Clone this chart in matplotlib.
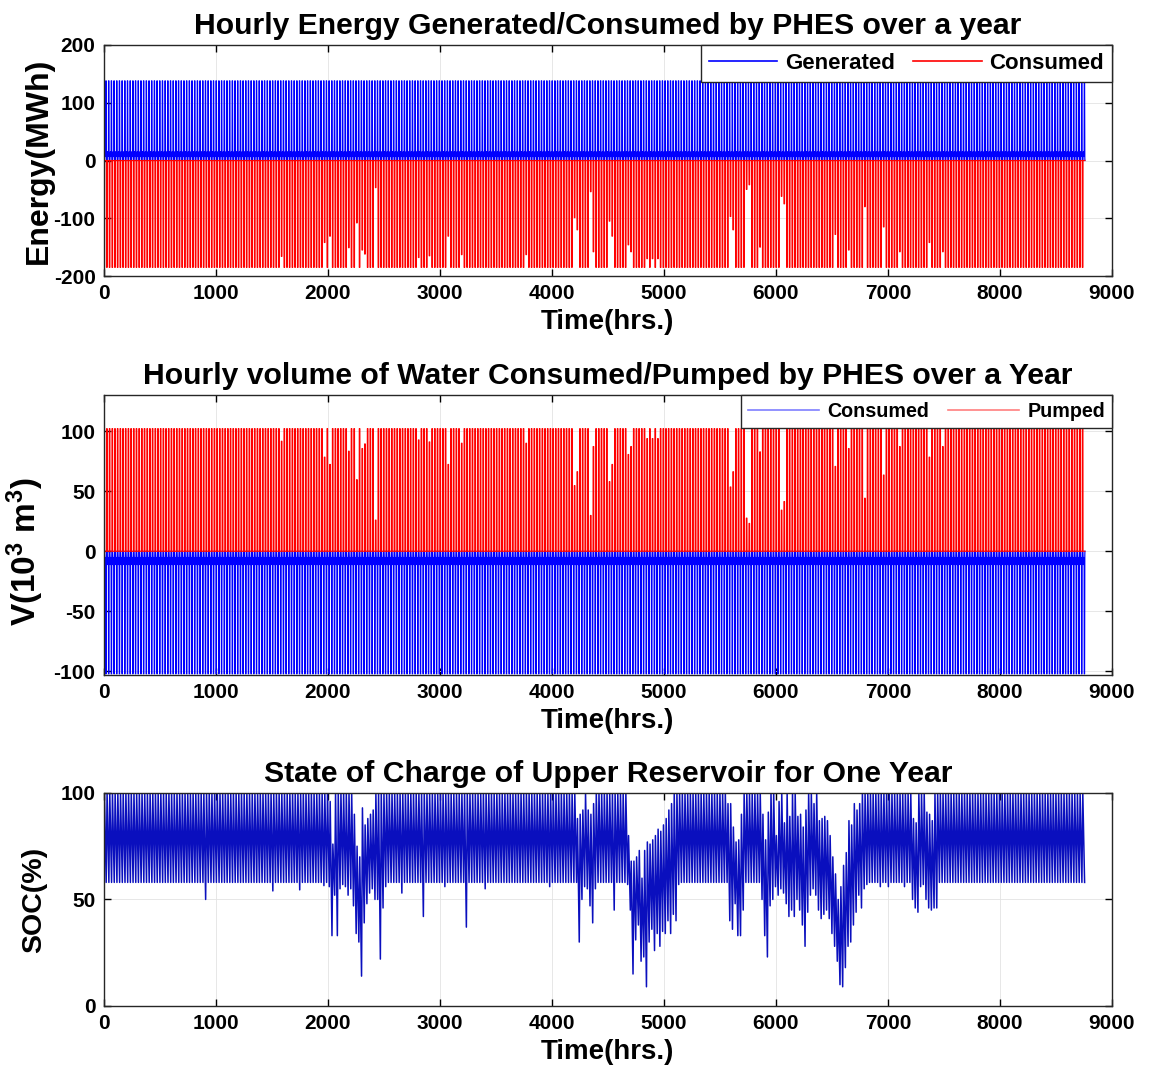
import numpy as np
import matplotlib.pyplot as plt

plt.rcParams['font.family'] = ['Liberation Sans', 'DejaVu Sans']
plt.rcParams['font.weight'] = 'bold'
plt.rcParams['axes.unicode_minus'] = False
plt.rcParams['mathtext.fontset'] = 'custom'
plt.rcParams['mathtext.rm'] = 'Liberation Sans:bold'
plt.rcParams['mathtext.it'] = 'Liberation Sans:bold'
plt.rcParams['mathtext.bf'] = 'Liberation Sans:bold'

# ---- data ----
n_days = 365

# typical day, hour by hour (MWh)
gen_day_mwh = [0, 0, 0, 0, 0, 0, 4, 9, 13, 15, 12, 9, 7, 10, 13, 15, 14, 138, 138, 138, 138, 12, 5, 0]
pump_day_mwh = [-185, -185, -185, -185, -185, -185, 0, 0, 0, 0, 0, 0, 0, 0, 0, 0, 0, 0, 0, 0, 0, 0, 0, 0]

# days where pumping did not reach full power (day, MWh)
partial_pump_day = [66, 82, 84, 91, 94, 96, 97, 101, 117, 121, 128, 133, 157, 175, 176, 181, 182,
                    188, 189, 195, 196, 202, 204, 206, 233, 234, 239, 240, 244, 252, 253, 272,
                    277, 283, 290, 296, 307, 312]
partial_pump_mwh = [-166, -142, -131, -151, -108, -155, -162, -47, -168, -165, -131, -163, -163,
                    -99, -120, -54, -158, -105, -131, -146, -158, -170, -170, -170, -97, -120,
                    -50, -42, -150, -62, -75, -128, -155, -80, -115, -158, -142, -158]

gen_full_mwh, gen_full_vol = 138, 102
pump_full_mwh, pump_full_vol = 185, 102

# SOC: usual daily swing
soc_peak_base = 100
soc_trough_base = 58

# single-day dips (hour, trough %)
dip_hour = [893, 1510, 1732, 1955, 2643, 2837, 3027, 3217, 3402, 3966, 4546, 4656, 5113,
            6912, 6984, 7128]
dip_soc = [50, 54, 54.5, 56.5, 53, 42, 56, 37, 55, 56, 45, 57, 57, 56, 56, 56]

# runs of disturbed days: first day, troughs, peaks
run_a_day = 83
run_a_trough = [56, 33, 52, 33, 55, 57, 56, 52, 55, 47, 34, 30, 14, 39, 48, 53, 55, 50, 50, 22, 46, 56]
run_a_peak = [100, 96, 76, 100, 100, 100, 100, 100, 100, 100, 90, 75, 70, 93, 85, 88, 90, 92, 100, 100, 100, 100]

run_f_day = 175
run_f_trough = [58, 30, 50, 56, 55, 47, 39, 55]
run_f_peak = [100, 88, 90, 92, 100, 92, 90, 95]

run_b_day = 195
run_b_trough = [45, 15, 31, 38, 21, 23, 9, 30, 36, 26, 34, 28, 35, 34, 40, 34, 43, 40]
run_b_peak = [80, 68, 68, 70, 73, 60, 73, 77, 76, 78, 80, 83, 82, 85, 88, 92, 95, 100]

run_c_day = 232
run_c_trough = [40, 36, 48, 33, 33, 45]
run_c_peak = [95, 95, 84, 77, 78, 90]

run_d_day = 244
run_d_trough = [50, 33, 23, 47, 50, 56, 52, 55, 53, 48, 42, 45, 42, 50, 45, 38, 28, 44, 52, 55,
                52, 45, 41, 43, 45, 41, 34, 28, 21, 10, 9, 18, 28, 30, 38, 44, 52, 46, 55, 57]
run_d_peak = [100, 90, 78, 91, 100, 100, 80, 96, 100, 86, 100, 89, 100, 100, 89, 90, 84, 92, 100, 100,
              95, 100, 87, 88, 89, 87, 80, 70, 62, 50, 56, 66, 72, 87, 85, 95, 92, 95, 100, 100]

run_e_day = 300
run_e_trough = [50, 46, 44, 56, 57, 50, 46, 45, 46, 46]
run_e_peak = [100, 88, 86, 100, 100, 100, 91, 90, 87, 100]

# ---- hourly series ----
hours = np.arange(n_days * 24)
gen = np.tile(gen_day_mwh, n_days).astype(float)
pump = np.tile(pump_day_mwh, n_days).astype(float)
for d, v in zip(partial_pump_day, partial_pump_mwh):
    seg = pump[d * 24:(d + 1) * 24]
    seg[seg < 0] = v

vol_out = -gen * gen_full_vol / gen_full_mwh
vol_in = -pump * pump_full_vol / pump_full_mwh

peak = np.full(n_days, float(soc_peak_base))
trough = np.full(n_days, float(soc_trough_base))
for h, v in zip(dip_hour, dip_soc):
    trough[h // 24] = v
for d0, tr, pk in [(run_a_day, run_a_trough, run_a_peak), (run_f_day, run_f_trough, run_f_peak),
                   (run_b_day, run_b_trough, run_b_peak), (run_c_day, run_c_trough, run_c_peak),
                   (run_d_day, run_d_trough, run_d_peak), (run_e_day, run_e_trough, run_e_peak)]:
    trough[d0:d0 + len(tr)] = tr
    peak[d0:d0 + len(pk)] = pk

days = np.arange(n_days)
soc_t = np.column_stack([days * 24 + 4, days * 24 + 20]).ravel()
soc_v = np.column_stack([peak, trough]).ravel()

# ---- figure ----
fig = plt.figure(figsize=(11.55, 10.79), dpi=100)
left, width = 0.090, 0.8727
ax1 = fig.add_axes([left, 0.7442, width, 0.2141])
ax2 = fig.add_axes([left, 0.3744, width, 0.2595])
ax3 = fig.add_axes([left, 0.0677, width, 0.1974])

def style(ax):
    ax.set_xlim(0, 9000)
    ax.set_xticks(np.arange(0, 9001, 1000))
    ax.tick_params(direction='in', top=True, right=True, length=5, width=1,
                   labelsize=15, pad=6)
    for lab in ax.get_xticklabels() + ax.get_yticklabels():
        lab.set_fontweight('bold')
    for s in ax.spines.values():
        s.set_color('#262626')
        s.set_linewidth(1)
    ax.grid(True, color='#e3e3e3', linewidth=0.6)
    ax.set_axisbelow(True)
    ax.set_xlabel('Time(hrs.)', fontsize=20, fontweight='bold', labelpad=4)

lw = 0.85
ax1.plot(hours, gen, color='#0000ff', lw=lw, label='Generated')
ax1.plot(hours, pump, color='#ff0000', lw=lw, label='Consumed')
ax1.set_ylim(-200, 200)
ax1.set_yticks([-200, -100, 0, 100, 200])
style(ax1)
ax1.set_title('Hourly Energy Generated/Consumed by PHES over a year', fontsize=21.7,
              fontweight='bold', pad=8)
ax1.set_ylabel('Energy(MWh)', fontsize=23, fontweight='bold', labelpad=0)
leg1 = ax1.legend(loc='upper right', ncol=2, fontsize=16, handlelength=3.1, frameon=True,
                  fancybox=False, framealpha=1, edgecolor='#262626', borderaxespad=0,
                  columnspacing=0.8, handletextpad=0.35, borderpad=0.35)
for line in leg1.get_lines():
    line.set_linewidth(1.2)

ax2.plot(hours, vol_out, color='#0000ff', lw=lw, label='Consumed')
ax2.plot(hours, vol_in, color='#ff0000', lw=lw, label='Pumped')
ax2.set_ylim(-103, 130)
ax2.set_yticks([-100, -50, 0, 50, 100])
style(ax2)
ax2.set_title('Hourly volume of Water Consumed/Pumped by PHES over a Year', fontsize=21.7,
              fontweight='bold', pad=8)
ax2.set_ylabel(r'V(10$^{3}$ m$^{3}$)', fontsize=24, fontweight='bold', labelpad=0)
ax2.yaxis.set_label_coords(-0.057, 0.44)
leg2 = ax2.legend(loc='upper right', ncol=2, fontsize=14.2, handlelength=3.6, frameon=True,
                  fancybox=False, framealpha=1, edgecolor='#262626', borderaxespad=0,
                  columnspacing=1.0, handletextpad=0.4, borderpad=0.35)
for line in leg2.get_lines():
    line.set_linewidth(1.2)
    line.set_alpha(0.5)

ax3.plot(soc_t, soc_v, color='#0a0fbe', lw=1.1)
ax3.set_ylim(0, 100)
ax3.set_yticks([0, 50, 100])
style(ax3)
ax3.set_title('State of Charge of Upper Reservoir for One Year', fontsize=21.7,
              fontweight='bold', pad=8)
ax3.set_ylabel('SOC(%)', fontsize=20.5, fontweight='bold', labelpad=10)

fig.savefig('out.png', dpi=100)
